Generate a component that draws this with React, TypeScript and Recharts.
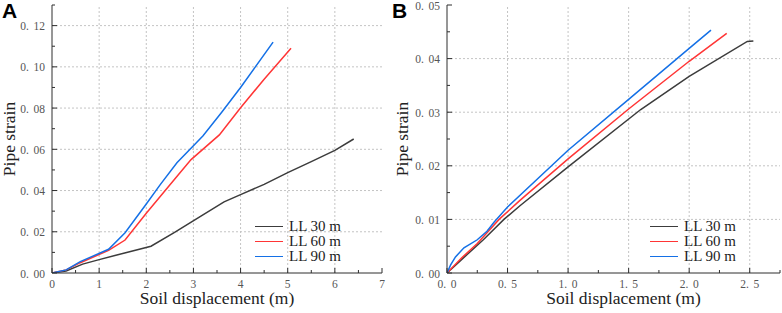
import React from 'react';
import { LineChart, XAxis, YAxis, Line, ReferenceLine } from 'recharts';

// series labels and colours (same for both panels)
const seriesNames = ['LL 30 m', 'LL 60 m', 'LL 90 m'];
const seriesColors = ['#3c3c3c', '#ff3535', '#1470e6'];

// panel A: soil displacement (m) vs pipe strain
const dispA30 = [0, 0.3, 0.65, 1.0, 1.5, 2.1, 2.6, 3.15, 3.65, 4.0, 4.5, 5.0, 5.5, 6.0, 6.4];
const strainA30 = [0, 0.001, 0.0043, 0.0065, 0.0095, 0.013, 0.0197, 0.0275, 0.0345, 0.038, 0.043, 0.0487, 0.054, 0.0595, 0.065];
const dispA60 = [0, 0.3, 0.6, 1.2, 1.55, 2.0, 2.6, 2.95, 3.55, 4.0, 4.5, 5.07];
const strainA60 = [0, 0.0015, 0.005, 0.011, 0.016, 0.029, 0.0455, 0.055, 0.067, 0.0802, 0.094, 0.109];
const dispA90 = [0, 0.3, 0.6, 1.2, 1.55, 2.0, 2.3, 2.65, 3.2, 3.6, 4.0, 4.69];
const strainA90 = [0, 0.0015, 0.0055, 0.0115, 0.0195, 0.0335, 0.043, 0.0535, 0.0665, 0.078, 0.09, 0.112];

// panel B
const dispB30 = [0, 0.12, 0.3, 0.47, 0.6, 1.0, 1.6, 2.0, 2.48, 2.53];
const strainB30 = [0, 0.0025, 0.0062, 0.01, 0.0125, 0.0198, 0.0305, 0.0367, 0.0432, 0.0433];
const dispB60 = [0, 0.12, 0.25, 0.43, 0.6, 1.0, 1.5, 2.0, 2.31];
const strainB60 = [0, 0.0028, 0.0055, 0.01, 0.0135, 0.0213, 0.0306, 0.0395, 0.0447];
const dispB90 = [0, 0.03, 0.07, 0.14, 0.25, 0.33, 0.39, 0.5, 1.0, 1.5, 2.0, 2.18];
const strainB90 = [0, 0.0015, 0.003, 0.0047, 0.0062, 0.0078, 0.0095, 0.0123, 0.0229, 0.0324, 0.0419, 0.0453];

// ticks (major + minor) and labelled majors
const xTicksA = [0, 0.5, 1, 1.5, 2, 2.5, 3, 3.5, 4, 4.5, 5, 5.5, 6, 6.5, 7];
const xMajorA = [0, 1, 2, 3, 4, 5, 6, 7];
const yTicksA = [0, 0.01, 0.02, 0.03, 0.04, 0.05, 0.06, 0.07, 0.08, 0.09, 0.1, 0.11, 0.12, 0.13];
const yMajorA = [0, 0.02, 0.04, 0.06, 0.08, 0.1, 0.12];
const xTicksB = [0, 0.25, 0.5, 0.75, 1, 1.25, 1.5, 1.75, 2, 2.25, 2.5, 2.75];
const xMajorB = [0, 0.5, 1, 1.5, 2, 2.5];
const yTicksB = [0, 0.005, 0.01, 0.015, 0.02, 0.025, 0.03, 0.035, 0.04, 0.045, 0.05];
const yMajorB = [0, 0.01, 0.02, 0.03, 0.04, 0.05];

const SERIF = '"Liberation Serif", "DejaVu Serif", serif';
const FRAME = '#2e2e2e';
const GRID = '#c4c4c4';

const toPoints = (xs: number[], ys: number[]) => xs.map((x, i) => ({ x, y: ys[i] }));
const isMajor = (v: number, majors: number[]) => majors.some(m => Math.abs(m - v) < 1e-9);
const spaced = (s: string) => s.replace('.', '.\u2009\u2009');

interface Geom { left: number; right: number; top: number; bottom: number; }

const tickText: React.CSSProperties = { fontFamily: SERIF, fontSize: 11.5, fill: '#555' };

const InTick = (props: any) => {
  const { x, y, payload, side, geom, majors, fmt } = props;
  const v = payload.value;
  const major = isMajor(v, majors);
  const len = major ? 5 : 3;
  const g: Geom = geom;
  if (side === 'bottom' || side === 'top') {
    const y0 = side === 'bottom' ? g.bottom : g.top;
    const y1 = side === 'bottom' ? y0 - len : y0 + len;
    return (
      <g>
        <line x1={x} y1={y0} x2={x} y2={y1} stroke={FRAME} strokeWidth={1} />
        {side === 'bottom' && major && (
          <text x={x} y={g.bottom + 14.5} textAnchor="middle" style={tickText}>
            {fmt(v)}
          </text>
        )}
      </g>
    );
  }
  const x0 = side === 'left' ? g.left : g.right;
  const x1 = side === 'left' ? x0 + len : x0 - len;
  return (
    <g>
      <line x1={x0} y1={y} x2={x1} y2={y} stroke={FRAME} strokeWidth={1} />
      {side === 'left' && major && (
        <text x={g.left - 7} y={y + 4.5} textAnchor="end" style={tickText}>
          {fmt(v)}
        </text>
      )}
    </g>
  );
};

interface PanelProps {
  letter: string;
  width: number;
  yAxisWidth: number;
  marginRight: number;
  xDomain: [number, number];
  xTicks: number[];
  xMajor: number[];
  yDomain: [number, number];
  yTicks: number[];
  yMajor: number[];
  xFmt: (v: number) => string;
  yFmt: (v: number) => string;
  series: { x: number; y: number }[][];
  legendLeft: number;
  xLabelDx: number;
  yLabelOffset: number;
}

const HEIGHT = 313;
const TOP = 5;
const XAXIS_H = 40;

const Panel: React.FC<PanelProps> = (p) => {
  const geom: Geom = { left: p.yAxisWidth, right: p.width - p.marginRight, top: TOP, bottom: HEIGHT - XAXIS_H };
  const gridX = p.xMajor.filter(v => v > p.xDomain[0] && v < p.xDomain[1]);
  const gridY = p.yMajor.filter(v => v > p.yDomain[0] && v < p.yDomain[1]);
  return (
    <div style={{ position: 'relative', width: p.width, height: HEIGHT }}>
      <LineChart width={p.width} height={HEIGHT} margin={{ top: TOP, right: p.marginRight, left: 0, bottom: 0 }}>
        <XAxis
          xAxisId="b" dataKey="x" type="number" domain={p.xDomain} ticks={p.xTicks} interval={0}
          height={XAXIS_H} allowDataOverflow axisLine={{ stroke: FRAME }} tickLine={false}
          tick={(t: any) => <InTick {...t} side="bottom" geom={geom} majors={p.xMajor} fmt={p.xFmt} />}
          label={{ value: 'Soil displacement (m)', position: 'insideBottom', offset: 9, dx: p.xLabelDx, style: { fontFamily: SERIF, fontSize: 17.5, fill: '#222' } }}
        />
        <XAxis
          xAxisId="t" orientation="top" dataKey="x" type="number" domain={p.xDomain} ticks={p.xTicks} interval={0}
          height={0} allowDataOverflow axisLine={{ stroke: FRAME }} tickLine={false}
          tick={(t: any) => <InTick {...t} side="top" geom={geom} majors={p.xMajor} fmt={p.xFmt} />}
        />
        <YAxis
          yAxisId="l" type="number" domain={p.yDomain} ticks={p.yTicks} interval={0} width={p.yAxisWidth}
          allowDataOverflow axisLine={{ stroke: FRAME }} tickLine={false}
          tick={(t: any) => <InTick {...t} side="left" geom={geom} majors={p.yMajor} fmt={p.yFmt} />}
          label={{ value: 'Pipe strain', angle: -90, position: 'insideLeft', offset: p.yLabelOffset, style: { textAnchor: 'middle', fontFamily: SERIF, fontSize: 17.5, fill: '#222' } }}
        />
        <YAxis
          yAxisId="r" orientation="right" type="number" domain={p.yDomain} ticks={p.yTicks} interval={0} width={0}
          allowDataOverflow axisLine={{ stroke: FRAME }} tickLine={false}
          tick={(t: any) => <InTick {...t} side="right" geom={geom} majors={p.yMajor} fmt={p.yFmt} />}
        />
        {gridX.map(v => (
          <ReferenceLine key={`gx${v}`} xAxisId="b" yAxisId="l" x={v} stroke={GRID} strokeDasharray="2 2" />
        ))}
        {gridY.map(v => (
          <ReferenceLine key={`gy${v}`} xAxisId="b" yAxisId="l" y={v} stroke={GRID} strokeDasharray="2 2" />
        ))}
        {p.series.map((pts, i) => (
          <Line
            key={seriesNames[i]} xAxisId="b" yAxisId="l" data={pts} dataKey="y" name={seriesNames[i]}
            type="linear" stroke={seriesColors[i]} strokeWidth={1.5} dot={false} activeDot={false}
            isAnimationActive={false}
          />
        ))}
        {/* mirror axes need something bound to them */}
        <Line xAxisId="t" yAxisId="r" data={[]} dataKey="y" stroke="none" dot={false} isAnimationActive={false} legendType="none" />
      </LineChart>
      <div style={{ position: 'absolute', left: 2, top: -1, fontFamily: '"Liberation Sans", Arial, sans-serif', fontWeight: 'bold', fontSize: 21 }}>
        {p.letter}
      </div>
      <div style={{ position: 'absolute', left: p.legendLeft, top: 218.5, fontFamily: SERIF, fontSize: 15, color: '#222' }}>
        {seriesNames.map((n, i) => (
          <div key={n} style={{ display: 'flex', alignItems: 'center', height: 15.3 }}>
            <span style={{ display: 'inline-block', width: 28, height: 0, borderTop: `1.6px solid ${seriesColors[i]}`, marginRight: 6 }} />
            <span>{n}</span>
          </div>
        ))}
      </div>
    </div>
  );
};

const App: React.FC = () => (
  <div style={{ position: 'absolute', left: 0, top: 0, width: 782, height: 313, display: 'flex', background: '#fff' }}>
    <Panel
      letter="A" width={390} yAxisWidth={52} marginRight={8}
      xDomain={[0, 7]} xTicks={xTicksA} xMajor={xMajorA}
      yDomain={[0, 0.13]} yTicks={yTicksA} yMajor={yMajorA}
      xFmt={v => String(v)} yFmt={v => spaced(v.toFixed(2))}
      series={[toPoints(dispA30, strainA30), toPoints(dispA60, strainA60), toPoints(dispA90, strainA90)]}
      legendLeft={255} xLabelDx={0} yLabelOffset={9}
    />
    <Panel
      letter="B" width={392} yAxisWidth={57} marginRight={2}
      xDomain={[0, 2.75]} xTicks={xTicksB} xMajor={xMajorB}
      yDomain={[0, 0.05]} yTicks={yTicksB} yMajor={yMajorB}
      xFmt={v => spaced(v.toFixed(1))} yFmt={v => spaced(v.toFixed(2))}
      series={[toPoints(dispB30, strainB30), toPoints(dispB60, strainB60), toPoints(dispB90, strainB90)]}
      legendLeft={260} xLabelDx={10} yLabelOffset={12}
    />
  </div>
);

export default App;
